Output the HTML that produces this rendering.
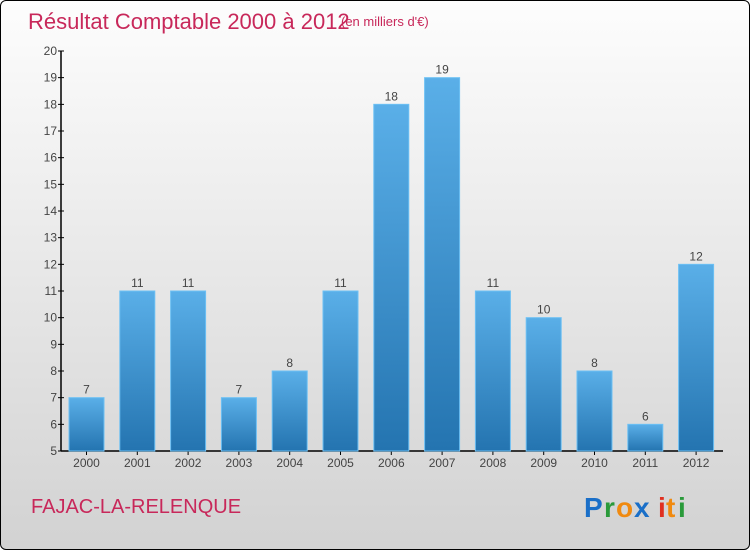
<!DOCTYPE html>
<html><head><meta charset="utf-8"><style>
html,body{margin:0;padding:0}
body{width:750px;height:550px;overflow:hidden;font-family:"Liberation Sans",sans-serif}
#wrap{position:absolute;left:0;top:0;width:748px;height:548px;border:1px solid #000;border-radius:6px;background:linear-gradient(#fdfdfd,#d2d2d2);overflow:hidden}
</style></head><body>
<div id="wrap">
<svg width="750" height="550" xmlns="http://www.w3.org/2000/svg" id="chart">
<defs><linearGradient id="bg" x1="0" y1="0" x2="0" y2="1"><stop offset="0" stop-color="#5aafe8"/><stop offset="1" stop-color="#2474b0"/></linearGradient></defs>
<text x="27" y="28" font-size="22" fill="#c8285a">Résultat Comptable 2000 à 2012</text>
<text x="340" y="25" font-size="13" fill="#c8285a">(en milliers d'€)</text>
<g id="axes"></g><g id="bars"></g>
<text x="30" y="512" font-size="20" fill="#c8285a">FAJAC-LA-RELENQUE</text>
<g font-size="28" font-weight="bold" font-family="'Liberation Sans',sans-serif">
<text x="583" y="516" fill="#1a6fc8">P</text><text x="603" y="516" fill="#2a9a3a">r</text><text x="615" y="516" fill="#f08a10">o</text><text x="633" y="516" fill="#1a6fc8">x</text><text x="657" y="516" fill="#e03020">i</text><text x="665" y="516" fill="#f08a10">t</text><text x="677" y="516" fill="#2a9a3a">i</text>
</g>
</svg></div>
<script>
const years=["2000","2001","2002","2003","2004","2005","2006","2007","2008","2009","2010","2011","2012"];
const values=[7,11,11,7,8,11,18,19,11,10,8,6,12];
const yTicks=[5,6,7,8,9,10,11,12,13,14,15,16,17,18,19,20];
const NS="http://www.w3.org/2000/svg";
const y0=450,y1=50,vmin=5,vmax=20,x0=60,step=50.8,bw=35;
const yS=v=>y0-(v-vmin)/(vmax-vmin)*(y0-y1);
const xS=i=>x0+25.5+i*step;
function mk(t,a,p){const e=document.createElementNS(NS,t);for(const k in a)e.setAttribute(k,a[k]);p.appendChild(e);return e;}
const ax=document.getElementById('axes'),bs=document.getElementById('bars');
let l=mk('line',{x1:x0,y1:y1,x2:x0,y2:y0,stroke:'#000','stroke-width':1.5},ax);


l=mk('line',{x1:x0,y1:y0,x2:722,y2:y0,stroke:'#000','stroke-width':1.5},ax);


yTicks.forEach(v=>{const y=yS(v);
mk('line',{x1:x0-3,y1:y,x2:x0+3,y2:y,stroke:'#000'},ax);
const t=mk('text',{x:x0-4,y:y+4,'font-size':12,'text-anchor':'end',fill:'#444'},ax);t.textContent=v;

});
years.forEach((yr,i)=>{const cx=xS(i),v=values[i],y=yS(v);
const r=mk('rect',{x:cx-bw/2,y:y,width:bw,height:y0-y,fill:'url(#bg)',stroke:'#6cc0f4','stroke-width':1},bs);


const t=mk('text',{x:cx,y:y-4,'font-size':12,'text-anchor':'middle',fill:'#444'},bs);t.textContent=v;


mk('line',{x1:cx,y1:y0,x2:cx,y2:y0+4,stroke:'#000'},ax);
const xl=mk('text',{x:cx,y:y0+16,'font-size':12,'text-anchor':'middle',fill:'#444'},ax);xl.textContent=yr;

});
</script>
</body></html>
